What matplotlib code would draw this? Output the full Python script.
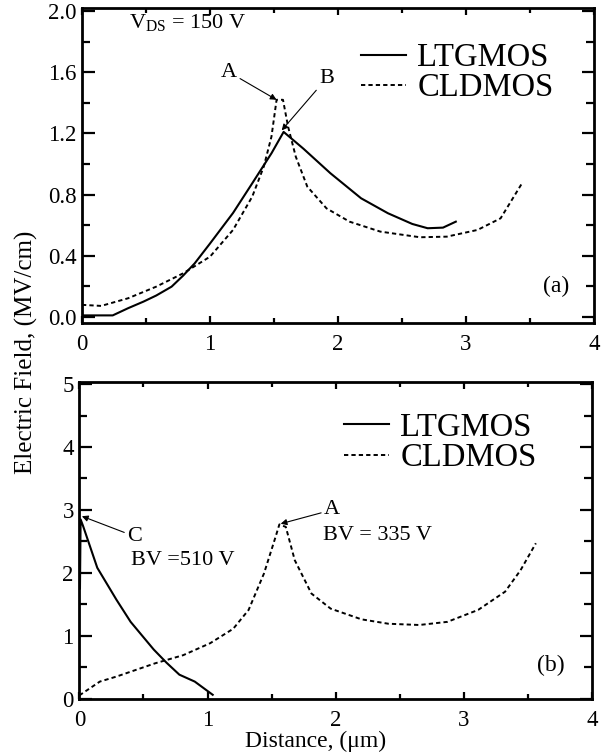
import numpy as np
import matplotlib
matplotlib.use("Agg")
import matplotlib.pyplot as plt
from matplotlib.ticker import MultipleLocator

# (a) V_DS = 150 V
ltg_a_x = [0, 0.24, 0.36, 0.48, 0.58, 0.70, 0.79, 0.88, 1.0, 1.18, 1.33, 1.48, 1.575, 1.73, 1.94, 2.18, 2.39, 2.58, 2.70, 2.82, 2.92]
ltg_a_y = [0.01, 0.01, 0.057, 0.10, 0.14, 0.198, 0.27, 0.35, 0.48, 0.68, 0.874, 1.07, 1.21, 1.10, 0.94, 0.776, 0.678, 0.608, 0.58, 0.584, 0.623]
cld_a_x = [0, 0.15, 0.36, 0.58, 0.79, 1.0, 1.18, 1.33, 1.42, 1.48, 1.52, 1.57, 1.61, 1.67, 1.76, 1.91, 2.09, 2.33, 2.64, 2.85, 3.09, 3.27, 3.44]
cld_a_y = [0.079, 0.072, 0.122, 0.198, 0.285, 0.394, 0.569, 0.787, 0.983, 1.179, 1.42, 1.42, 1.244, 1.048, 0.852, 0.71, 0.623, 0.558, 0.521, 0.525, 0.569, 0.645, 0.878]

# (b) breakdown
ltg_b_x = [0.005, 0.01, 0.03, 0.14, 0.29, 0.40, 0.58, 0.68, 0.78, 0.90, 1.04]
ltg_b_y = [1.75, 2.85, 2.74, 2.08, 1.57, 1.22, 0.78, 0.57, 0.38, 0.27, 0.06]
cld_b_x = [0, 0.16, 0.29, 0.59, 0.81, 1.02, 1.2, 1.32, 1.44, 1.53, 1.56, 1.61, 1.68, 1.81, 1.96, 2.2, 2.41, 2.65, 2.87, 3.11, 3.32, 3.44, 3.56]
cld_b_y = [0.05, 0.27, 0.35, 0.56, 0.69, 0.88, 1.11, 1.41, 1.99, 2.57, 2.77, 2.73, 2.20, 1.67, 1.43, 1.26, 1.19, 1.17, 1.22, 1.41, 1.70, 2.04, 2.47]

labels = ["LTGMOS", "CLDMOS"]

plt.rcParams["font.family"] = ["Liberation Serif", "DejaVu Serif"]
plt.rcParams["mathtext.fontset"] = "custom"
plt.rcParams["mathtext.rm"] = "Liberation Serif"

DASH = (2.2, 1.6)
arrow = dict(arrowstyle="-|>", lw=0.8, color="black", mutation_scale=9, shrinkA=0, shrinkB=0)


def style_axes(ax):
    for s in ax.spines.values():
        s.set_linewidth(2)
    ax.tick_params(which="both", direction="in", top=True, right=True, width=1.6, labelsize=16.5)
    ax.tick_params(axis="y", which="major", length=9, pad=4)
    ax.tick_params(axis="y", which="minor", length=6)
    ax.tick_params(axis="x", which="major", length=5, pad=8)
    ax.tick_params(axis="x", which="minor", length=3.5)
    ax.set_xlim(0, 4)
    ax.xaxis.set_major_locator(MultipleLocator(1))
    ax.xaxis.set_minor_locator(MultipleLocator(0.5))


fig = plt.figure(figsize=(6.06, 7.53), dpi=100)
ax1 = fig.add_axes([0.1353, 0.571, 0.845, 0.4183])
ax2 = fig.add_axes([0.1309, 0.0723, 0.8465, 0.42])

# top panel
ax1.plot(ltg_a_x, ltg_a_y, color="black", lw=1.5, label=labels[0])
ax1.plot(cld_a_x, cld_a_y, color="black", lw=1.4, dashes=DASH, label=labels[1])
style_axes(ax1)
ax1.set_ylim(-0.04, 2.02)
ax1.yaxis.set_major_locator(MultipleLocator(0.4))
ax1.yaxis.set_minor_locator(MultipleLocator(0.2))
ax1.yaxis.set_major_formatter(matplotlib.ticker.FormatStrFormatter("%.1f"))
ax1.text(0.37, 1.99, r"V$_{\mathrm{DS}}$ = 150 V", fontsize=16, ha="left", va="top")
ax1.text(3.70, 0.20, "(a)", fontsize=17, ha="center", va="center")
ax1.annotate("A", xy=(1.52, 1.42), xytext=(1.15, 1.60), fontsize=16, ha="center", va="center", arrowprops=arrow)
ax1.annotate("B", xy=(1.56, 1.22), xytext=(1.91, 1.56), fontsize=16, ha="center", va="center", arrowprops=arrow)
ax1.legend(loc="center left", bbox_to_anchor=(0.545, 0.794), frameon=False, fontsize=23.5,
           handlelength=1.38, handletextpad=0.34, labelspacing=0.0, borderpad=0, borderaxespad=0)

# bottom panel
ax2.plot(ltg_b_x, ltg_b_y, color="black", lw=1.5, label=labels[0])
ax2.plot(cld_b_x, cld_b_y, color="black", lw=1.4, dashes=DASH, label=labels[1])
style_axes(ax2)
ax2.set_ylim(0, 5.03)
ax2.yaxis.set_major_locator(MultipleLocator(1))
ax2.yaxis.set_minor_locator(MultipleLocator(0.5))
ax2.text(3.68, 0.53, "(b)", fontsize=17, ha="center", va="center")
ax2.annotate("C", xy=(0.02, 2.90), xytext=(0.43, 2.58), fontsize=16, ha="center", va="center", arrowprops=arrow)
ax2.text(0.40, 2.20, "BV =510 V", fontsize=16, ha="left", va="center")
ax2.annotate("A", xy=(1.57, 2.78), xytext=(1.97, 3.0), fontsize=16, ha="center", va="center", arrowprops=arrow)
ax2.text(1.90, 2.60, "BV = 335 V", fontsize=16, ha="left", va="center")
ax2.legend(loc="center left", bbox_to_anchor=(0.516, 0.809), frameon=False, fontsize=23.5,
           handlelength=1.38, handletextpad=0.34, labelspacing=0.0, borderpad=0, borderaxespad=0)

fig.text(316 / 606, 1 - 741 / 753, "Distance, (\u03bcm)", fontsize=17, ha="center", va="center")
fig.text(26 / 606, 1 - 352 / 753, "Electric Field, (MV/cm)", fontsize=18, rotation=90, ha="center", va="center")

fig.savefig("out.png", dpi=100)
